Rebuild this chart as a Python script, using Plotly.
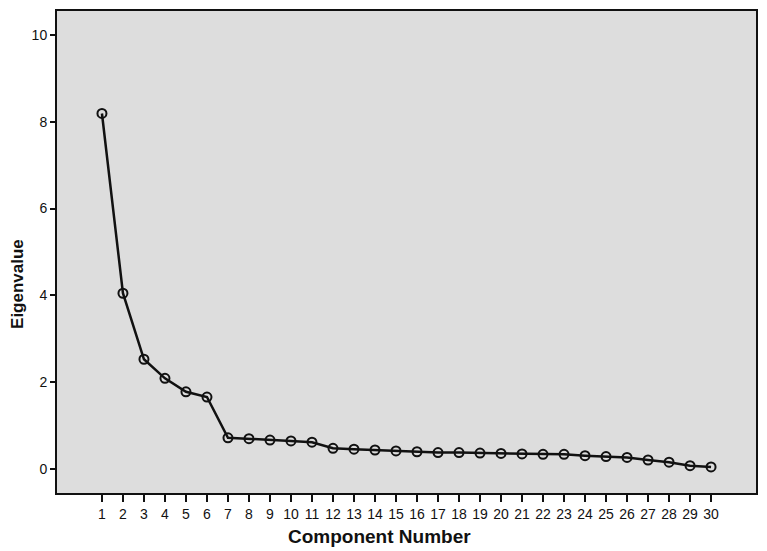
import plotly.graph_objects as go

components = list(range(1, 31))
eigenvalues = [8.19, 4.05, 2.53, 2.09, 1.78, 1.66, 0.72, 0.70, 0.67, 0.65,
               0.62, 0.48, 0.46, 0.44, 0.42, 0.40, 0.38, 0.38, 0.37, 0.36,
               0.35, 0.34, 0.34, 0.31, 0.29, 0.27, 0.21, 0.16, 0.08, 0.05]
y_ticks = [0, 2, 4, 6, 8, 10]

fig = go.Figure()
fig.add_trace(go.Scatter(
    x=components, y=eigenvalues, mode="lines+markers",
    line=dict(color="#111111", width=2.5),
    marker=dict(symbol="circle-open", size=9, color="#111111", line=dict(width=2)),
    showlegend=False,
))

font = "Liberation Sans, Arial, sans-serif"
fig.update_layout(
    width=767, height=551,
    margin=dict(l=57, r=9, t=9, b=58),
    paper_bgcolor="white",
    plot_bgcolor="#DDDDDD",
    font=dict(family=font, color="#111111", size=14),
    xaxis=dict(
        range=[-1.14, 32.14], tickvals=components, ticktext=[str(c) for c in components],
        ticks="outside", ticklen=7, tickwidth=2, tickcolor="#111111",
        showgrid=False, zeroline=False, showline=True, linecolor="#111111", linewidth=2,
        mirror=True, tickfont=dict(size=14),
    ),
    yaxis=dict(
        range=[-0.55, 10.55], tickvals=y_ticks,
        ticks="outside", ticklen=5, tickwidth=2, tickcolor="#111111",
        showgrid=False, zeroline=False, showline=True, linecolor="#111111", linewidth=2,
        mirror=True, tickfont=dict(size=14),
    ),
    annotations=[
        dict(
            text="<b>Eigenvalue</b>", textangle=-90, xref="paper", yref="paper",
            x=-0.0556, y=0.434, xanchor="center", yanchor="middle", showarrow=False,
            font=dict(size=17, family=font, color="#111111"),
        ),
        dict(
            text="<b>Component Number</b>", xref="paper", yref="paper",
            x=0.461, y=-0.091, xanchor="center", yanchor="middle", showarrow=False,
            font=dict(size=19, family=font, color="#111111"),
        ),
    ],
)

fig.write_html("out.html")
